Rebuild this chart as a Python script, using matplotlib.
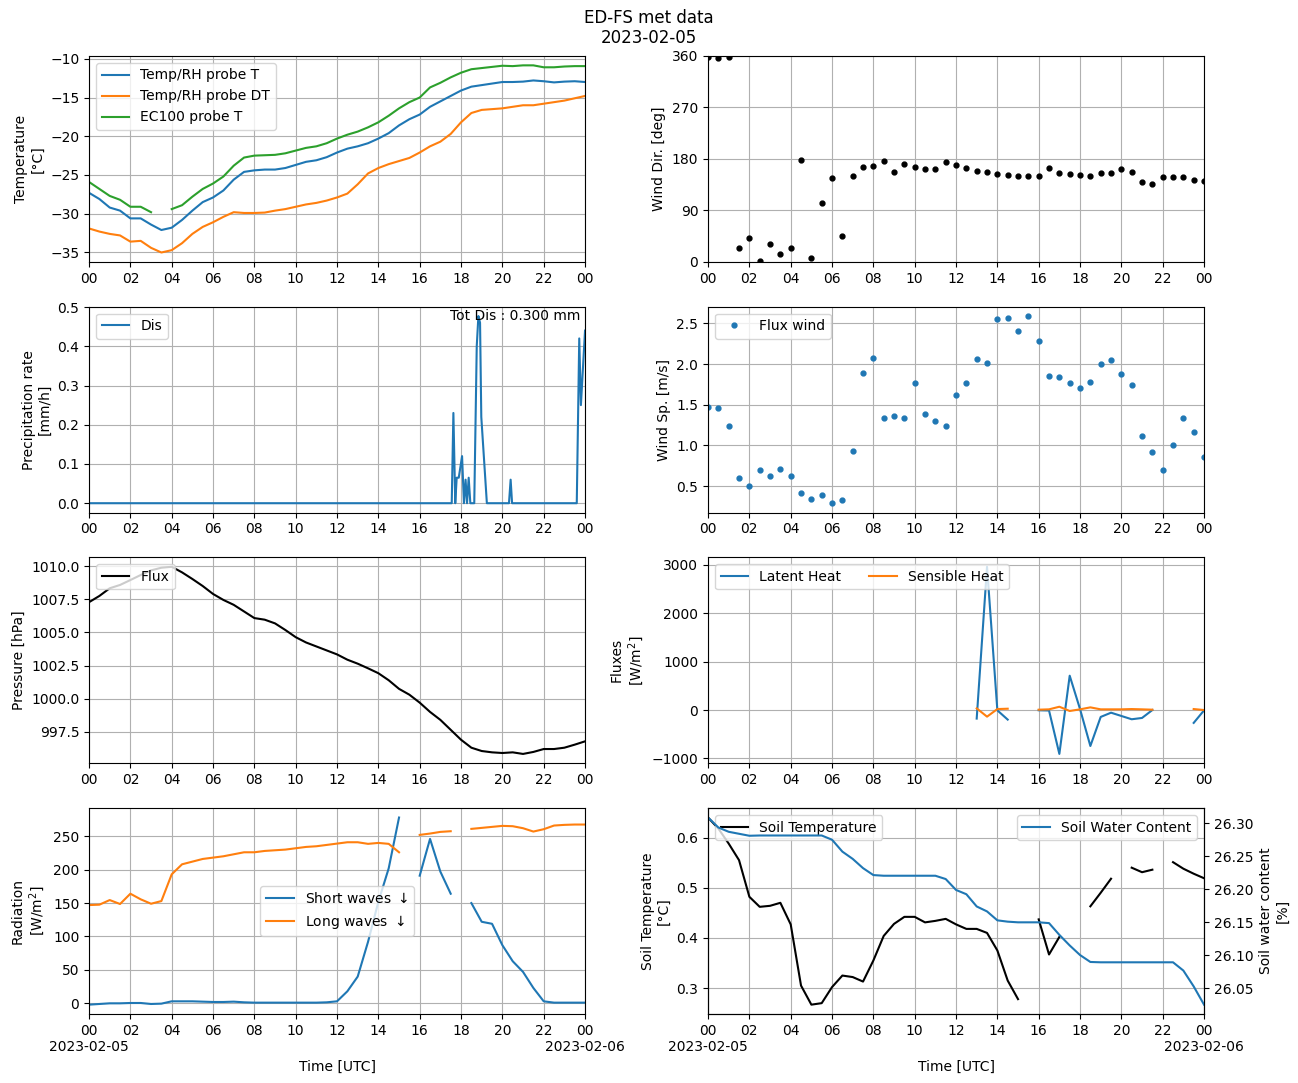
import numpy as np
import pandas as pd
import matplotlib
matplotlib.use("Agg")
import matplotlib.pyplot as plt
import matplotlib.dates as mdates
from matplotlib.ticker import FuncFormatter

nan = np.nan

# half-hourly time axis, 2023-02-05 00:00 -> 2023-02-06 00:00
t0 = pd.Timestamp("2023-02-05 00:00")
times = pd.date_range(t0, periods=49, freq="30min")

# temperatures [degC]
temp_rh_T = [-27.3, -28.1, -29.2, -29.6, -30.6, -30.6, -31.4, -32.1, -31.8, -30.8,
             -29.6, -28.5, -27.9, -27.0, -25.6, -24.6, -24.4, -24.3, -24.3, -24.1,
             -23.7, -23.3, -23.1, -22.7, -22.1, -21.6, -21.3, -20.9, -20.3, -19.6,
             -18.6, -17.8, -17.2, -16.2, -15.5, -14.8, -14.1, -13.6, -13.4, -13.2,
             -13.0, -13.0, -12.95, -12.8, -12.9, -13.05, -12.95, -12.9, -13.0]
temp_rh_DT = [-31.9, -32.3, -32.6, -32.8, -33.6, -33.5, -34.4, -35.0, -34.7, -33.8,
              -32.6, -31.7, -31.1, -30.4, -29.8, -29.9, -29.9, -29.85, -29.6, -29.4,
              -29.1, -28.8, -28.6, -28.3, -27.9, -27.4, -26.2, -24.8, -24.1, -23.6,
              -23.2, -22.8, -22.1, -21.3, -20.7, -19.7, -18.2, -17.0, -16.6, -16.5,
              -16.4, -16.2, -16.0, -16.0, -15.8, -15.6, -15.4, -15.1, -14.8]
ec100_T = [-25.9, -26.8, -27.7, -28.2, -29.1, -29.1, -29.8, nan, -29.4, -28.9,
           -27.8, -26.8, -26.1, -25.2, -23.8, -22.75, -22.5, -22.45, -22.4, -22.2,
           -21.85, -21.5, -21.3, -20.9, -20.3, -19.8, -19.4, -18.85, -18.2, -17.35,
           -16.4, -15.6, -15.0, -13.7, -13.1, -12.4, -11.8, -11.35, -11.2, -11.05,
           -10.9, -10.95, -10.85, -10.85, -11.1, -11.1, -11.0, -10.95, -10.95]

# wind
wind_dir = [358, 357, 359, 24.5, 42, 2.3, 32, 14, 24.5, 178.5,
            7, 103, 147, 45.5, 150.5, 166, 168, 177, 157.5, 171.5,
            166, 163, 163, 175, 170, 164.5, 159.5, 157.5, 154, 152.5,
            150.5, 150.5, 150.5, 164.5, 156, 154, 152.5, 150.5, 156, 156,
            163, 157.5, 140, 136.5, 149, 149, 149, 143.5, 142]
wind_sp = [1.47, 1.46, 1.24, 0.60, 0.50, 0.70, 0.62, 0.71, 0.62, 0.41,
           0.34, 0.39, 0.29, 0.33, 0.93, 1.89, 2.07, 1.34, 1.36, 1.34,
           1.77, 1.39, 1.30, 1.24, 1.62, 1.77, 2.06, 2.01, 2.55, 2.57,
           2.41, 2.59, 2.28, 1.85, 1.84, 1.77, 1.70, 1.78, 2.00, 2.05,
           1.88, 1.74, 1.11, 0.92, 0.70, 1.00, 1.34, 1.16, 0.86]

# disdrometer precipitation rate (irregular sampling, hours after 00 UTC)
dis_hours = [0.0, 17.55, 17.63, 17.72, 17.79, 17.89, 18.05, 18.14, 18.22, 18.29,
             18.37, 18.45, 18.64, 18.76, 18.84, 18.92, 18.98, 19.25, 20.32, 20.4,
             20.47, 23.6, 23.72, 23.8, 24.0]
dis_vals = [0.0, 0.0, 0.23, 0.0, 0.065, 0.065, 0.12, 0.0, 0.06, 0.0,
            0.065, 0.0, 0.0, 0.40, 0.477, 0.46, 0.22, 0.0, 0.0, 0.06,
            0.0, 0.0, 0.42, 0.25, 0.44]
tot_dis = 0.300

# pressure [hPa]
pressure = [1007.28, 1007.75, 1008.33, 1008.58, 1008.95, 1009.33, 1009.68, 1009.88, 1009.95, 1009.53,
            1009.03, 1008.5, 1007.9, 1007.45, 1007.08, 1006.58, 1006.08, 1005.96, 1005.68, 1005.18,
            1004.64, 1004.24, 1003.94, 1003.64, 1003.34, 1002.94, 1002.64, 1002.29, 1001.92, 1001.39,
            1000.74, 1000.3, 999.7, 999.0, 998.4, 997.65, 996.9, 996.3, 996.05, 995.95,
            995.9, 995.95, 995.83, 995.98, 996.2, 996.2, 996.3, 996.53, 996.78]

# turbulent fluxes [W/m2]
latent = [nan] * 26 + [-177, 2962, -7, -198, nan, nan, -5, -10, -908, 710,
                       20, -744, -143, -55, -123, -191, -164, 0, nan, nan, nan, -266, -7]
sensible = [nan] * 26 + [34, -137, 20, 27, nan, nan, 7, 14, 68, -20,
                         14, 55, 14, 14, 14, 20, 14, 7, nan, nan, nan, 20, 0]

# radiation [W/m2]
sw_down = [-2, -1, 0, 0, 0.5, 0.5, -1, -0.5, 3, 3,
           3, 2.5, 2, 2, 2.5, 1.5, 1, 1, 1, 1,
           1, 1, 1, 1.5, 3, 18, 40, 92, 152, 202,
           278, nan, 191, 246, 197, 164, nan, 150, 122, 119,
           87, 63, 47, 23, 3, 1, 1, 1, 1]
lw_down = [147, 147.6, 154.5, 148.6, 164, 155.6, 149, 153, 193, 208,
           212, 216, 218, 220, 223, 226, 226, 228, 229, 230,
           232, 234, 235, 237, 239, 241, 241, 238.6, 240, 238.6,
           226, nan, 252, 254, 256.5, 257.5, nan, 261, 262.5, 264,
           265.5, 265, 262, 257, 260.5, 266, 267, 267.5, 267.5]

# soil
soil_T = [0.64, 0.618, 0.588, 0.555, 0.482, 0.462, 0.464, 0.470, 0.427, 0.305,
          0.267, 0.270, 0.302, 0.325, 0.322, 0.313, 0.355, 0.404, 0.428, 0.442,
          0.442, 0.431, 0.434, 0.438, 0.427, 0.418, 0.418, 0.410, 0.375, 0.315,
          0.278, nan, 0.437, 0.367, 0.402, nan, nan, 0.463, 0.490, 0.518,
          nan, 0.540, 0.531, 0.536, nan, 0.551, 0.538, 0.528, 0.519]
soil_wc = [26.3086, 26.2935, 26.287, 26.284, 26.281, 26.2814, 26.2814, 26.2814, 26.2814, 26.2814,
           26.2814, 26.2814, 26.275, 26.257, 26.246, 26.232, 26.2215, 26.2205, 26.2205, 26.2205,
           26.2205, 26.2205, 26.2205, 26.2155, 26.199, 26.1925, 26.174, 26.1665, 26.153, 26.151,
           26.150, 26.150, 26.150, 26.1488, 26.131, 26.115, 26.1005, 26.09, 26.0895, 26.0895,
           26.0895, 26.0895, 26.0895, 26.0895, 26.0895, 26.0895, 26.077, 26.053, 26.0254]


def hour_date_label(x, pos=None):
    d = mdates.num2date(x)
    if d.hour == 0 and d.minute == 0:
        return d.strftime("%H\n%Y-%m-%d")
    return d.strftime("%H")


def format_time(ax, bottom=False):
    ax.set_xlim(times[0], times[-1])
    ax.xaxis.set_major_locator(mdates.HourLocator(byhour=range(0, 24, 2)))
    if bottom:
        # date under the midnight ticks
        ax.xaxis.set_major_formatter(FuncFormatter(hour_date_label))
        ax.set_xlabel("Time [UTC]")
    else:
        ax.xaxis.set_major_formatter(mdates.DateFormatter("%H"))
    ax.grid(True)


fig, axs = plt.subplots(4, 2, figsize=(12.98, 10.83), dpi=100)
fig.subplots_adjust(left=0.0686, right=0.9276, top=0.9483, bottom=0.0637,
                    wspace=0.248, hspace=0.218)
fig.suptitle("ED-FS met data\n2023-02-05", y=0.992)

# temperature
ax = axs[0, 0]
ax.plot(times, temp_rh_T, label="Temp/RH probe T")
ax.plot(times, temp_rh_DT, label="Temp/RH probe DT")
ax.plot(times, ec100_T, label="EC100 probe T")
ax.set_ylabel("Temperature\n[°C]")
ax.legend(loc="upper left")
format_time(ax)

# wind direction
ax = axs[0, 1]
ax.plot(times, wind_dir, "k.", markersize=7)
ax.set_ylim(0, 360)
ax.set_yticks([0, 90, 180, 270, 360])
ax.set_ylabel("Wind Dir. [deg]")
format_time(ax)

# precipitation
ax = axs[1, 0]
dis_times = t0 + pd.to_timedelta(dis_hours, unit="h")
ax.plot(dis_times, dis_vals, label="Dis")
ax.text(0.99, 0.99, "Tot Dis : %.3f mm" % tot_dis, transform=ax.transAxes,
        ha="right", va="top")
ax.set_ylabel("Precipitation rate\n[mm/h]")
ax.legend(loc="upper left")
format_time(ax)

# wind speed
ax = axs[1, 1]
ax.plot(times, wind_sp, ".", markersize=7, label="Flux wind")
ax.set_ylabel("Wind Sp. [m/s]")
ax.legend(loc="upper left")
format_time(ax)

# pressure
ax = axs[2, 0]
ax.plot(times, pressure, color="black", label="Flux")
ax.set_ylabel("Pressure [hPa]")
ax.legend(loc="upper left")
format_time(ax)

# fluxes
ax = axs[2, 1]
ax.plot(times, latent, label="Latent Heat")
ax.plot(times, sensible, label="Sensible Heat")
ax.set_ylabel("Fluxes\n[W/m$^2$]")
ax.legend(loc="upper left", ncol=2)
format_time(ax)

# radiation
ax = axs[3, 0]
ax.plot(times, sw_down, label="Short waves $\\downarrow$")
ax.plot(times, lw_down, label="Long waves $\\downarrow$")
ax.set_ylabel("Radiation\n[W/m$^2$]")
ax.legend(loc="center")
format_time(ax, bottom=True)

# soil
ax = axs[3, 1]
ax.plot(times, soil_T, color="black", label="Soil Temperature")
ax.set_ylabel("Soil Temperature\n[°C]")
ax.legend(loc="upper left")
format_time(ax, bottom=True)
ax2 = ax.twinx()
ax2.plot(times, soil_wc, label="Soil Water Content")
ax2.set_ylabel("Soil water content\n[%]")
ax2.legend(loc="upper right")

fig.savefig("out.png", dpi=100)
